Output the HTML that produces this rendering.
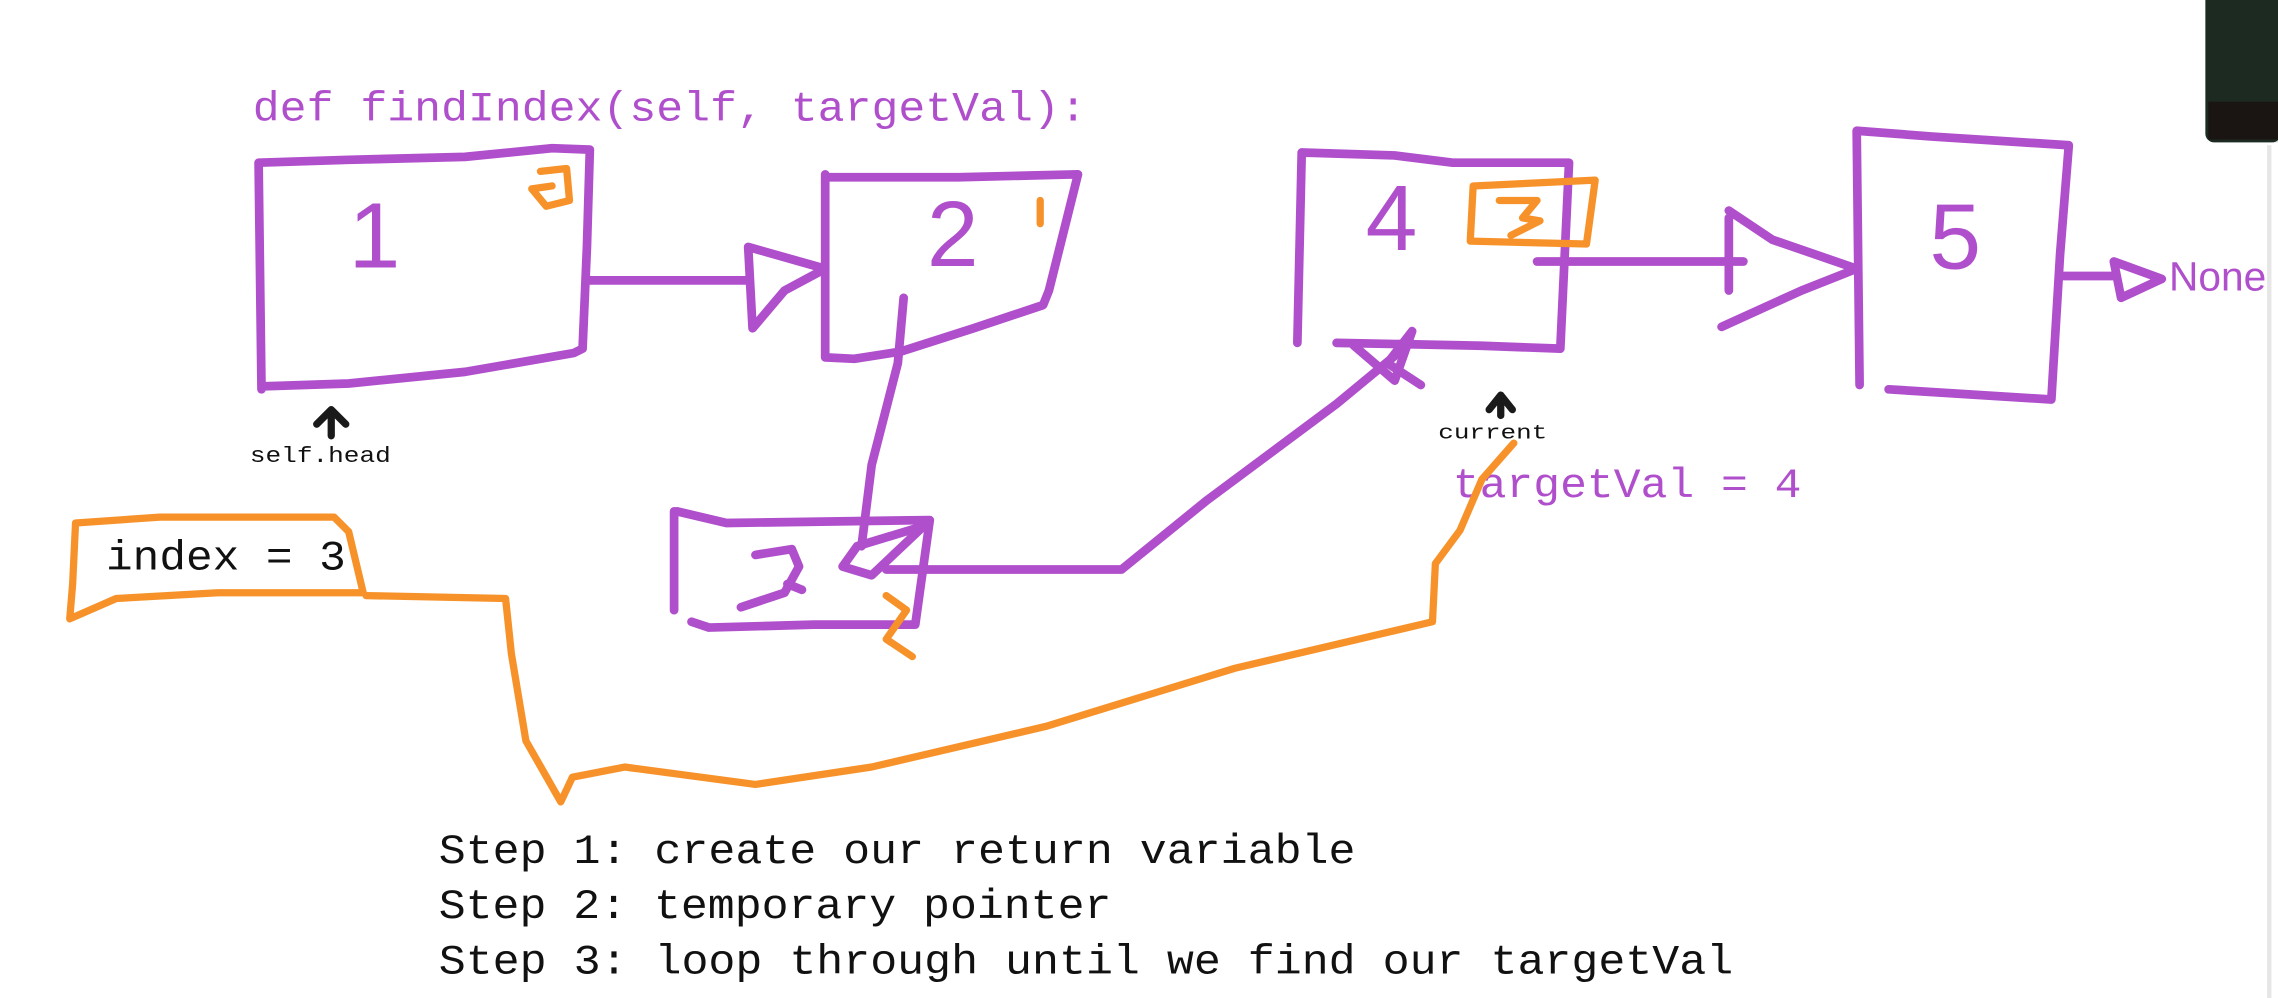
<!DOCTYPE html>
<html><head><meta charset="utf-8"><style>
html,body{margin:0;padding:0;background:#fff;width:2278px;height:998px;overflow:hidden}
svg{display:block}
text{font-family:"Liberation Mono","DejaVu Sans Mono",monospace}
</style></head><body>
<svg width="2278" height="998" viewBox="0 0 1568 687" preserveAspectRatio="none" xmlns="http://www.w3.org/2000/svg">
<rect width="1568" height="687" fill="#fff"/>
<rect x="1522" y="-6" width="52" height="104" rx="6" fill="#bbb" opacity="0.5"/>
<rect x="1518" y="-8" width="52" height="106" rx="6" fill="#1d2a22"/>
<rect x="1520" y="70" width="48" height="26" fill="#1a1512"/>
<line x1="1562" y1="100" x2="1562" y2="687" stroke="#e6e6e6" stroke-width="3"/>

<text x="174" y="83" font-size="29" fill="#b04fcc" textLength="574" lengthAdjust="spacingAndGlyphs">def findIndex(self, targetVal):</text>

<g fill="none" stroke="#b04fcc" stroke-width="6" stroke-linecap="round" stroke-linejoin="round">
<path d="M180 268 L178 112 L240 110 L320 108 L380 102 L406 103 L404 170 L401 240 L395 243 L320 256 L240 264 L180 266"/>
<path d="M404 193 L515 193"/>
<path d="M515 170 L518 226 L540 200 L568 185 L515 170"/>
<path d="M568 120 L568 246 L588 247 L620 242 L670 226 L718 210 L722 200 L742 120 L660 122 L570 122"/>
<path d="M622 205 L618 250 L600 320 L593 376"/>
<path d="M464 352 L464 420"/>
<path d="M466 352 L500 360 L640 358 L630 430 L560 430 L488 432 L476 428"/>
<path d="M590 376 L636 362 L600 396 L580 390 L590 376"/>
<path d="M520 382 L545 378 L550 390 L540 408 L510 418 M542 402 L552 406"/>
<path d="M610 392 L772 392 L830 345 L920 278 L960 245"/>
<path d="M932 238 L960 262 L972 228 L955 250 L978 265"/>
<path d="M893 236 L896 105 L960 107 L1000 112 L1080 112 L1074 240 L1020 238 L920 236"/>
<path d="M1058 180 L1200 180"/>
<path d="M1190 150 L1190 200 M1190 145 L1220 165 L1278 185 L1240 200 L1185 225"/>
<path d="M1280 265 L1278 90 L1330 94 L1424 100 L1418 175 L1412 275 L1300 268"/>
<path d="M1420 190 L1455 190 M1455 180 L1488 192 L1460 205 Z"/>
</g>
<g fill="#b04fcc">
<text x="240" y="184" font-size="64" style="font-family:'Liberation Sans',sans-serif">1</text>
<text x="638" y="183" font-size="64" style="font-family:'Liberation Sans',sans-serif">2</text>
<text x="940" y="172" font-size="64" style="font-family:'Liberation Sans',sans-serif">4</text>
<text x="1328" y="185" font-size="64" style="font-family:'Liberation Sans',sans-serif">5</text>
<text x="1493" y="200" font-size="28" style="font-family:'Liberation Sans',sans-serif">None</text>
</g>
<text x="1000" y="342" font-size="29" fill="#b04fcc" textLength="240" lengthAdjust="spacingAndGlyphs">targetVal = 4</text>

<g fill="none" stroke="#f7922a" stroke-width="5" stroke-linecap="round" stroke-linejoin="round">
<path d="M372 118 L390 116 L392 138 L376 142 L366 130 L380 128"/>
<path d="M716 138 L716 154"/>
<path d="M1014 128 L1098 124 L1092 168 L1012 166 Z M1032 138 L1058 138 L1048 150 L1060 152 L1040 162"/>
<path d="M610 410 L624 420 L610 440 L628 452"/>
<path d="M52 360 L110 356 L230 356 L240 366 L250 408 L150 408 L80 412 L48 426 L50 402 Z"/>
<path d="M252 410 L348 412 L352 450 L362 510 L386 552 L394 535 L430 528 L520 540 L600 528 L720 500 L850 460 L986 428 L988 388 L1005 365 L1020 330 L1042 305"/>
</g>
<text x="73" y="392" font-size="29" fill="#111" textLength="165" lengthAdjust="spacingAndGlyphs">index = 3</text>

<g fill="none" stroke="#1a1a1a" stroke-width="5" stroke-linecap="round" stroke-linejoin="round">
<path d="M228 300 L228 282 M218 292 L228 282 L238 292"/>
<path d="M1033 286 L1033 274 M1025 282 L1033 272 L1041 282"/>
</g>
<text x="172" y="318" font-size="15" fill="#111" textLength="97" lengthAdjust="spacingAndGlyphs">self.head</text>
<text x="990" y="302" font-size="14" fill="#111" textLength="75" lengthAdjust="spacingAndGlyphs">current</text>

<g font-size="29" fill="#111">
<text x="302" y="594" textLength="631" lengthAdjust="spacingAndGlyphs">Step 1: create our return variable</text>
<text x="302" y="632" textLength="463" lengthAdjust="spacingAndGlyphs">Step 2: temporary pointer</text>
<text x="302" y="670" textLength="891" lengthAdjust="spacingAndGlyphs">Step 3: loop through until we find our targetVal</text>
</g>
</svg>
</body></html>
